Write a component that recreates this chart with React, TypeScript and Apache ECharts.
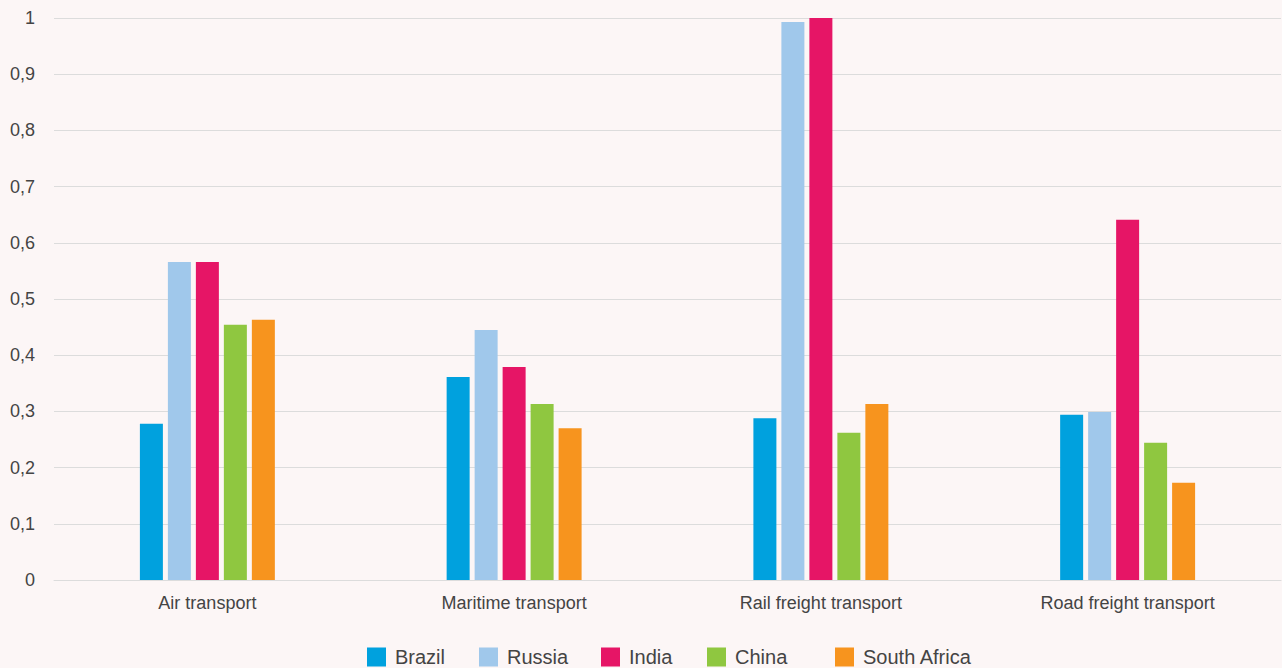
import React, { useEffect, useRef } from "react";
import * as echarts from "echarts";

const categories = ["Air transport", "Maritime transport", "Rail freight transport", "Road freight transport"];
const seriesNames = ["Brazil", "Russia", "India", "China", "South Africa"];
const brazil = [0.278, 0.361, 0.288, 0.294];
const russia = [0.566, 0.445, 0.993, 0.299];
const india = [0.566, 0.379, 1.0, 0.641];
const china = [0.454, 0.313, 0.262, 0.244];
const southAfrica = [0.463, 0.27, 0.313, 0.173];
const colors = ["#00a1de", "#a0c8eb", "#e61566", "#8fc740", "#f7941e"];
const legendLeft = [367, 479, 601, 707, 835];

export default function App() {
  const ref = useRef<HTMLDivElement>(null);
  useEffect(() => {
    if (!ref.current) return;
    const chart = echarts.init(ref.current, undefined, { renderer: "svg" });
    const values = [brazil, russia, india, china, southAfrica];
    const font = "'Liberation Sans', Arial, Helvetica, sans-serif";
    chart.setOption({
      animation: false,
      backgroundColor: "#fcf6f6",
      textStyle: { fontFamily: font },
      grid: { left: 54, right: 1, top: 18, bottom: 88 },
      legend: seriesNames.map((n, i) => ({
        data: [n],
        left: legendLeft[i] - 5,
        top: 642,
        itemWidth: 19,
        itemHeight: 19,
        icon: "rect",
        textStyle: { fontSize: 20, color: "#444", fontFamily: font, padding: [0, 0, 0, 4] },
      })),
      xAxis: {
        type: "category",
        data: categories,
        axisLine: { show: true, lineStyle: { color: "#dcdcdc" } },
        axisTick: { show: false },
        axisLabel: { fontSize: 18, color: "#444", margin: 14, fontFamily: font },
      },
      yAxis: {
        type: "value",
        min: 0,
        max: 1,
        interval: 0.1,
        axisLine: { show: false },
        axisTick: { show: false },
        splitLine: { lineStyle: { color: "#dcdcdc" } },
        axisLabel: {
          fontSize: 18,
          color: "#444",
          margin: 19,
          fontFamily: font,
          formatter: (v: number) => String(Math.round(v * 10) / 10).replace(".", ","),
        },
      },
      series: seriesNames.map((n, i) => ({
        name: n,
        type: "bar",
        data: values[i],
        barWidth: 23,
        barGap: "21.7%",
        itemStyle: { color: colors[i] },
      })),
    });
    return () => chart.dispose();
  }, []);
  return <div ref={ref} style={{ position: "fixed", left: 0, top: 0, width: 1282, height: 668 }} />;
}
